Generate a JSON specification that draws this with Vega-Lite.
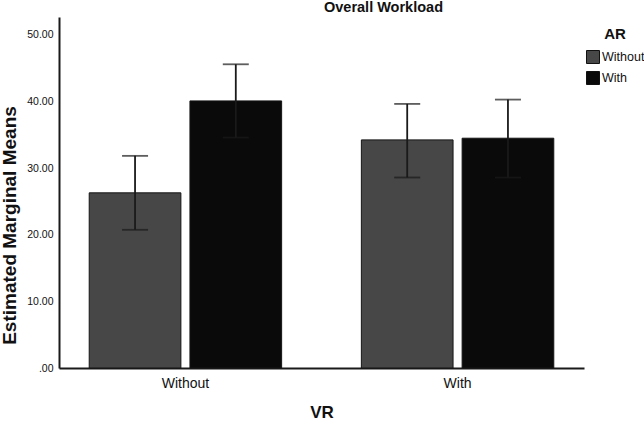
{
  "$schema": "https://vega.github.io/schema/vega-lite/v6.json",
  "autosize": "none",
  "width": 525,
  "height": 351,
  "padding": {"left": 59, "top": 17, "right": 60, "bottom": 53},
  "background": "white",
  "config": {
    "font": "Liberation Sans",
    "view": {"stroke": null},
    "axis": {"grid": false, "ticks": false, "domainColor": "#1a1a1a", "domainWidth": 2, "labelColor": "#111111", "titleColor": "#111111"}
  },
  "title": {
    "text": "Overall Workload",
    "fontSize": 14.5,
    "fontWeight": "bold",
    "color": "#111111",
    "anchor": "middle",
    "dx": 62,
    "offset": 2
  },
  "data": {
    "values": [
      {"VR": "Without", "AR": "Without", "mean": 26.3, "lower": 20.75, "upper": 31.85},
      {"VR": "Without", "AR": "With", "mean": 40.1, "lower": 34.6, "upper": 45.6},
      {"VR": "With", "AR": "Without", "mean": 34.25, "lower": 28.6, "upper": 39.65},
      {"VR": "With", "AR": "With", "mean": 34.5, "lower": 28.6, "upper": 40.3}
    ]
  },
  "encoding": {
    "x": {
      "field": "VR",
      "type": "nominal",
      "sort": ["Without", "With"],
      "scale": {"domain": ["Without", "With"], "paddingInner": 0.293, "paddingOuter": 0.111},
      "axis": {"title": "VR", "labelAngle": 0, "labelFontSize": 14, "labelPadding": 8, "titleFontSize": 17, "titleFontWeight": "bold", "titleY": 44, "titleBaseline": "middle"}
    },
    "xOffset": {
      "field": "AR",
      "type": "nominal",
      "sort": ["Without", "With"],
      "scale": {"domain": ["Without", "With"], "paddingInner": 0.09, "paddingOuter": 0}
    }
  },
  "layer": [
    {
      "mark": {"type": "bar", "stroke": "#151515", "strokeWidth": 1},
      "encoding": {
        "y": {
          "field": "mean",
          "type": "quantitative",
          "scale": {"domain": [0, 52.7], "nice": false},
          "axis": {
            "title": "Estimated Marginal Means",
            "values": [0, 10, 20, 30, 40, 50],
            "labelExpr": "datum.value == 0 ? '.00' : format(datum.value, '.2f')",
            "labelFontSize": 10.5,
            "labelPadding": 6,
            "titleFontSize": 19,
            "titleFontWeight": "bold",
            "titleX": -50,
            "titleY": 208,
            "titleBaseline": "middle"
          }
        },
        "color": {
          "field": "AR",
          "type": "nominal",
          "scale": {"domain": ["Without", "With"], "range": ["#474747", "#0a0a0a"]},
          "legend": {
            "title": "AR",
            "orient": "none",
            "legendX": 527,
            "legendY": 10,
            "padding": 0,
            "titleFontSize": 15,
            "titleFontWeight": "bold",
            "titleColor": "#111111",
            "titleAnchor": "middle",
            "titlePadding": 8,
            "labelFontSize": 12.5,
            "labelColor": "#111111",
            "labelOffset": 2,
            "symbolType": "square",
            "symbolSize": 169,
            "symbolStrokeColor": "#111111",
            "symbolStrokeWidth": 1,
            "rowPadding": 3
          }
        }
      }
    },
    {
      "mark": {"type": "rule", "color": "#1a1a1a", "strokeWidth": 1.8},
      "encoding": {
        "y": {"field": "lower", "type": "quantitative"},
        "y2": {"field": "upper"}
      }
    },
    {
      "mark": {"type": "tick", "color": "#1a1a1a", "thickness": 1.8, "size": 26},
      "encoding": {"y": {"field": "lower", "type": "quantitative"}}
    },
    {
      "mark": {"type": "tick", "color": "#1a1a1a", "thickness": 1.8, "size": 26},
      "encoding": {"y": {"field": "upper", "type": "quantitative"}}
    }
  ]
}
